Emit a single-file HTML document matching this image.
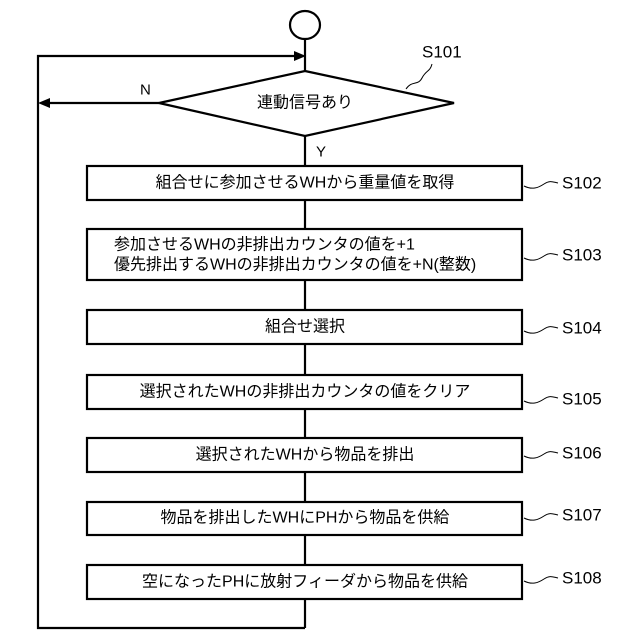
<!DOCTYPE html>
<html><head><meta charset="utf-8"><style>
html,body{margin:0;padding:0;background:#fff;}
svg{display:block;}
text{font-family:"Liberation Sans","Noto Sans CJK JP",sans-serif;fill:#000;}
.t{font-size:16px;text-anchor:middle;dominant-baseline:central;}
.l{font-size:17px;dominant-baseline:central;}
</style></head><body>
<svg width="640" height="640" viewBox="0 0 640 640" xmlns="http://www.w3.org/2000/svg">
<g stroke="#000" stroke-width="2.2" fill="none">
<ellipse cx="305" cy="25" rx="15" ry="14"/>
<line x1="305" y1="39" x2="305" y2="71"/>
<polyline points="305,628 38,628 38,56 296,56"/>
<polygon points="305,71 454,103 305,136 159,103" fill="#fff"/>
<line x1="159" y1="103" x2="46" y2="103"/>
<line x1="305" y1="136" x2="305" y2="565"/>
<line x1="305" y1="599" x2="305" y2="628"/>
<rect x="87" y="166" width="435" height="34" fill="#fff"/>
<rect x="87" y="229" width="435" height="51" fill="#fff"/>
<rect x="87" y="310" width="435" height="34" fill="#fff"/>
<rect x="87" y="375" width="435" height="34" fill="#fff"/>
<rect x="87" y="438" width="435" height="34" fill="#fff"/>
<rect x="87" y="502" width="435" height="33" fill="#fff"/>
<rect x="87" y="565" width="435" height="34" fill="#fff"/>
</g>
<polygon points="306,56 294,51 294,61" fill="#000"/>
<polygon points="38,103 50,98 50,108" fill="#000"/>
<g stroke="#000" stroke-width="1" fill="none">
<path d="M406,89 C412,80 418,86 422,78 C426,70 430,72 432,64"/>
<path d="M524,186 C532,190 538,188 544,184 C550,180 553,182 558,183"/>
<path d="M524,258 C532,262 538,260 544,256 C550,252 553,254 558,255"/>
<path d="M524,331 C532,335 538,333 544,329 C550,325 553,327 558,328"/>
<path d="M524,401 C532,405 538,403 544,399 C550,395 553,397 558,398"/>
<path d="M524,456 C532,460 538,458 544,454 C550,450 553,452 558,453"/>
<path d="M524,518 C532,522 538,520 544,516 C550,512 553,514 558,515"/>
<path d="M524,581 C532,585 538,583 544,579 C550,575 553,577 558,578"/>
</g>
<text class="l" x="422" y="52">S101</text>
<text class="l" x="140" y="90" style="font-size:15px">N</text>
<text class="l" x="316" y="152" style="font-size:15px">Y</text>
<text class="t" x="305" y="103">連動信号あり</text>
<text class="t" x="305" y="183">組合せに参加させるWHから重量値を取得</text>
<text class="l" x="114" y="245" style="font-size:16px">参加させるWHの非排出カウンタの値を+1</text>
<text class="l" x="114" y="265" style="font-size:16px">優先排出するWHの非排出カウンタの値を+N(整数)</text>
<text class="t" x="305" y="327">組合せ選択</text>
<text class="t" x="305" y="392">選択されたWHの非排出カウンタの値をクリア</text>
<text class="t" x="305" y="455">選択されたWHから物品を排出</text>
<text class="t" x="305" y="518">物品を排出したWHにPHから物品を供給</text>
<text class="t" x="305" y="582">空になったPHに放射フィーダから物品を供給</text>
<text class="l" x="562" y="183">S102</text>
<text class="l" x="562" y="255">S103</text>
<text class="l" x="562" y="328">S104</text>
<text class="l" x="562" y="399">S105</text>
<text class="l" x="562" y="453">S106</text>
<text class="l" x="562" y="515">S107</text>
<text class="l" x="562" y="578">S108</text>
</svg>
</body></html>
